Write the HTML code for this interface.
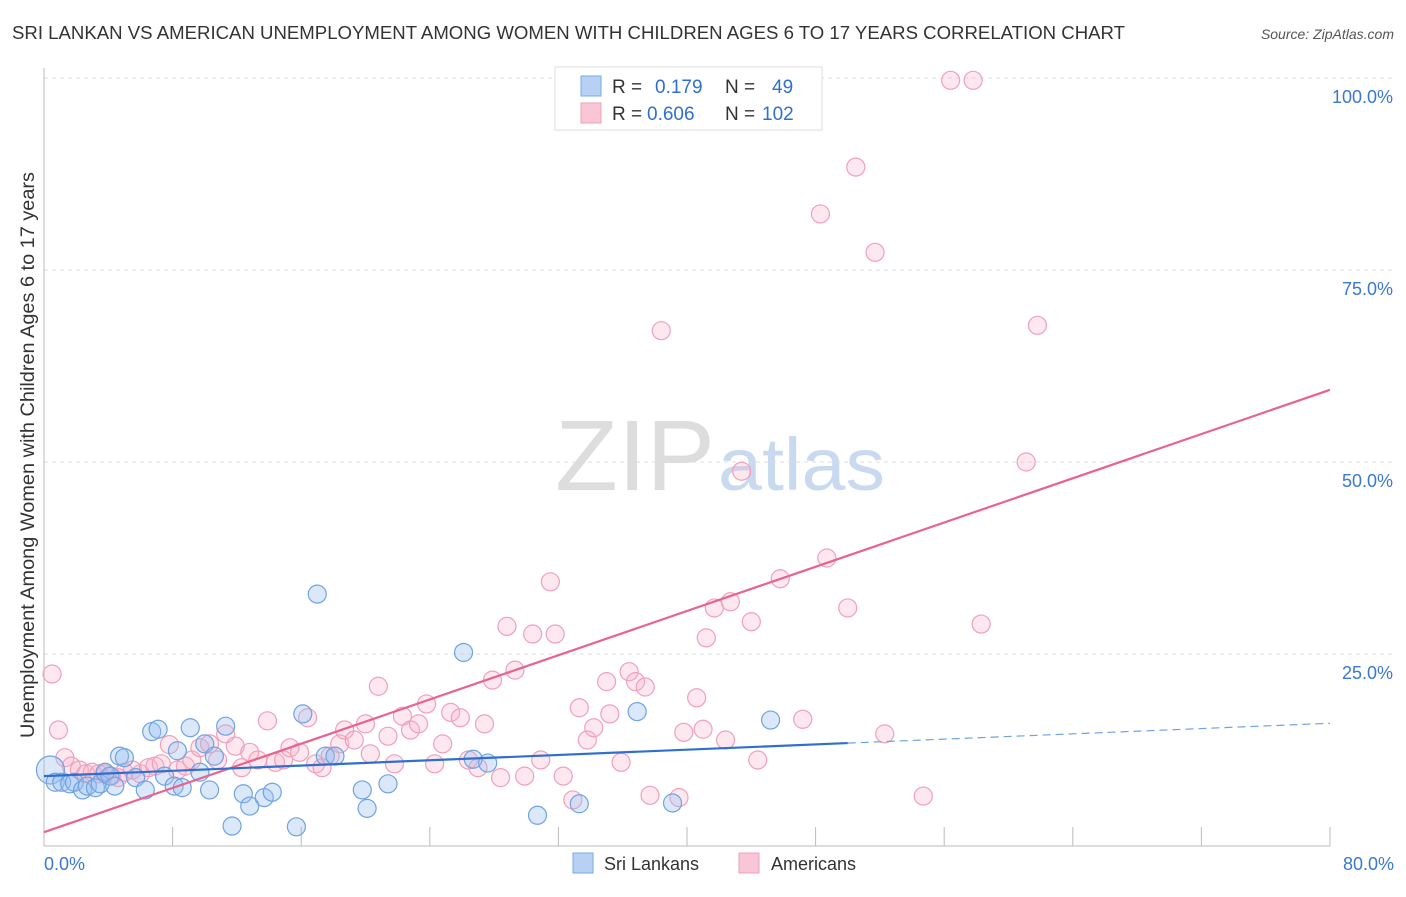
<!DOCTYPE html>
<html><head><meta charset="utf-8"><style>
body{margin:0;background:#fff;font-family:"Liberation Sans",sans-serif;}
svg text{font-family:"Liberation Sans",sans-serif;}
</style></head><body>
<svg id="chart" width="1406" height="892">
<text x="12" y="39" font-size="18" fill="#333" textLength="1113" lengthAdjust="spacingAndGlyphs">SRI LANKAN VS AMERICAN UNEMPLOYMENT AMONG WOMEN WITH CHILDREN AGES 6 TO 17 YEARS CORRELATION CHART</text>
<text x="1394" y="39" font-size="14" fill="#555" font-style="italic" text-anchor="end">Source: ZipAtlas.com</text>
<text x="555" y="490" font-size="100" fill="#ddd" textLength="160" lengthAdjust="spacingAndGlyphs" font-family="Liberation Serif">ZIP</text>
<text x="718" y="490" font-size="74" fill="#c9daf0" textLength="167" lengthAdjust="spacingAndGlyphs">atlas</text>
<g id="grid"></g>
<g id="pts"></g>
<g id="lines"></g>
<text transform="translate(34,455) rotate(-90)" font-size="19" fill="#333" text-anchor="middle" textLength="566" lengthAdjust="spacingAndGlyphs">Unemployment Among Women with Children Ages 6 to 17 years</text>
<g>
<rect x="555" y="67" width="267" height="63" fill="#fff" stroke="#ddd"/>
<rect x="581" y="76" width="20" height="20" fill="#b6d1f3" stroke="#7aaae6"/>
<rect x="581" y="103" width="20" height="20" fill="#f9c6d6" stroke="#f0a0b8"/>
<text x="612" y="93" font-size="19" fill="#333">R = <tspan x="655" fill="#2f6fd0">0.179</tspan><tspan x="725">N = </tspan><tspan x="772" fill="#2f6fd0">49</tspan></text>
<text x="612" y="120" font-size="19" fill="#333">R = <tspan x="647" fill="#2f6fd0">0.606</tspan><tspan x="725">N = </tspan><tspan x="762" fill="#2f6fd0">102</tspan></text>
</g>
<g>
<rect x="573" y="853" width="20" height="20" fill="#b6d1f3" stroke="#7aaae6"/>
<text x="604" y="870" font-size="18" fill="#333">Sri Lankans</text>
<rect x="739" y="853" width="20" height="20" fill="#f9c6d6" stroke="#f0a0b8"/>
<text x="771" y="870" font-size="18" fill="#333">Americans</text>
</g>
</svg>
<script>
const xTicks=[0,10,20,30,40,50,60,70,80];
const yTicks=[25,50,75,100];
const blueX=[0.4,0.7,1.1,1.6,1.9,2.4,2.7,3.2,3.5,3.8,4.1,4.4,4.7,5.0,5.7,6.3,6.7,7.1,7.5,8.1,8.3,8.6,9.1,9.7,10.0,10.3,10.6,11.3,11.7,12.4,12.8,13.7,14.2,15.7,16.1,17.0,17.5,18.1,19.8,20.1,21.4,26.1,26.7,27.6,30.7,33.3,36.9,39.1,45.2];
const blueY=[9.9,8.3,8.3,8.1,8.3,7.3,7.8,7.6,8.1,9.6,9.1,7.8,11.7,11.5,8.9,7.3,14.9,15.2,9.1,7.8,12.4,7.6,15.4,9.6,13.3,7.3,11.7,15.6,2.6,6.8,5.2,6.3,7.0,2.5,17.2,32.8,11.7,11.7,7.3,4.9,8.1,25.2,11.3,10.8,4.0,5.5,17.5,5.6,16.4];
const pinkX=[0.5,0.9,1.3,1.7,2.2,2.6,3.0,3.4,3.8,4.2,4.6,5.0,5.5,6.0,6.5,6.9,7.3,7.8,8.3,8.8,9.2,9.7,10.3,10.8,11.3,11.9,12.3,12.8,13.3,13.9,14.4,14.9,15.3,15.9,16.4,16.9,17.3,17.8,18.4,18.7,19.3,20.0,20.3,20.8,21.4,21.8,22.3,22.8,23.3,23.8,24.3,24.8,25.3,25.9,26.4,27.0,27.4,27.9,28.4,28.8,29.3,29.9,30.4,30.9,31.5,31.8,32.3,32.9,33.3,33.8,34.2,35.0,35.2,35.9,36.4,36.8,37.4,37.7,38.4,39.5,39.8,40.6,41.0,41.2,41.7,42.4,42.7,43.4,44.0,44.4,45.8,47.2,48.3,48.7,50.0,50.5,51.7,52.3,54.7,56.4,57.8,58.3,61.1,61.8];
const pinkY=[22.4,15.1,11.5,10.4,9.9,9.4,9.6,9.4,9.4,9.1,8.9,9.6,9.9,9.4,10.2,10.4,10.7,13.2,9.9,10.4,11.2,12.8,13.3,11.2,14.6,13.0,10.2,12.2,11.2,16.3,10.9,11.2,12.8,12.2,16.7,10.7,10.2,11.7,13.3,15.1,13.8,15.9,12.0,20.8,14.3,10.7,16.9,15.1,15.9,18.5,10.7,13.3,17.4,16.7,11.2,10.2,15.9,21.6,8.9,28.6,22.9,9.1,27.6,11.2,34.4,27.6,9.1,6.0,18.0,13.8,15.4,21.4,17.2,10.9,22.7,21.4,20.7,6.6,67.1,6.3,14.8,19.3,15.2,27.1,31.0,13.8,31.8,48.8,29.2,11.2,34.8,16.5,82.3,37.5,31.0,88.4,77.3,14.6,6.5,99.7,99.7,28.9,50.0,67.8];
const blueLine=[9.1,0.086], pinkLine=[1.8,0.72], blueSolidEnd=50;
const NS='http://www.w3.org/2000/svg';
const X=v=>44+v*16.075, Y=v=>846-v*7.68;
function mk(t,a,p){const e=document.createElementNS(NS,t);for(const k in a)e.setAttribute(k,a[k]);p.appendChild(e);return e;}
const grid=document.getElementById('grid'),pts=document.getElementById('pts'),lines=document.getElementById('lines');
yTicks.forEach(t=>{
 const g=mk('line',{x1:44,x2:1394,y1:Y(t),y2:Y(t),stroke:'#ddd','stroke-dasharray':'4,4'},grid);
 
 
 const l=mk('text',{x:1393,y:Y(t)+25,'font-size':18,fill:'#3a78d4','text-anchor':'end'},grid);l.textContent=t.toFixed(1)+'%';
 
 
});
mk('line',{x1:44,x2:44,y1:68,y2:846,stroke:'#bbb'},grid);
mk('line',{x1:44,x2:1330,y1:846,y2:846,stroke:'#bbb'},grid);
for(let i=0;i<=10;i++){const t=mk('line',{x1:X(i*8),x2:X(i*8),y1:827,y2:846,stroke:'#bbb'},grid);
 
 }
[[0,'start',44],[80,'end',1394]].forEach(([v,a,x])=>{const l=mk('text',{x:x,y:870,'font-size':18,fill:'#3a78d4','text-anchor':a},grid);l.textContent=v.toFixed(1)+'%';
 
 });
pinkX.forEach((x,i)=>{const c=mk('circle',{cx:X(x),cy:Y(pinkY[i]),r:9,fill:'rgba(248,180,202,0.3)',stroke:'#f0a0b8','stroke-width':1.2},pts);
 
 });
blueX.forEach((x,i)=>{const c=mk('circle',{cx:X(x),cy:Y(blueY[i]),r:i==0?14:9,fill:'rgba(150,190,240,0.35)',stroke:'#6fa3e2','stroke-width':1.2},pts);
 
 });
let l1=mk('line',{x1:X(0),y1:Y(pinkLine[0]),x2:X(80),y2:Y(pinkLine[0]+80*pinkLine[1]),stroke:'#e8638e','stroke-width':2.2},lines);


let l2=mk('line',{x1:X(0),y1:Y(blueLine[0]),x2:X(blueSolidEnd),y2:Y(blueLine[0]+blueSolidEnd*blueLine[1]),stroke:'#2f6fd0','stroke-width':2.2},lines);


let l3=mk('line',{x1:X(blueSolidEnd),y1:Y(blueLine[0]+blueSolidEnd*blueLine[1]),x2:X(80),y2:Y(blueLine[0]+80*blueLine[1]),stroke:'#6fa3e2','stroke-width':1.2,'stroke-dasharray':'8,5'},lines);


</script>
</body></html>
